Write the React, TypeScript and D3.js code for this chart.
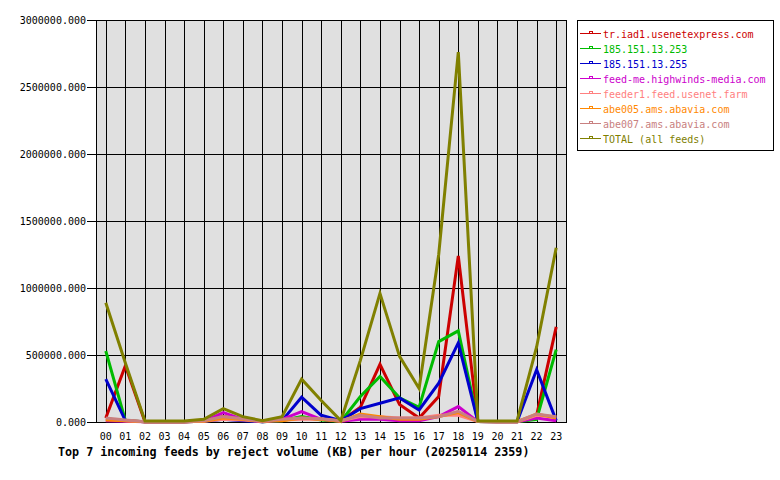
import * as d3 from "d3";

const hours = ["00", "01", "02", "03", "04", "05", "06", "07", "08", "09", "10", "11", "12", "13", "14", "15", "16", "17", "18", "19", "20", "21", "22", "23"];
const feedNames = [
  "tr.iad1.usenetexpress.com",
  "185.151.13.253",
  "185.151.13.255",
  "feed-me.highwinds-media.com",
  "feeder1.feed.usenet.farm",
  "abe005.ams.abavia.com",
  "abe007.ams.abavia.com",
  "TOTAL (all feeds)",
];
const feedColors = ["#cc0000", "#00bb00", "#0000cc", "#cc00cc", "#ff8080", "#ff8800", "#c88080", "#808000"];

const iad1 = [30000, 420000, 2000, 2000, 2000, 10000, 40000, 20000, 5000, 20000, 30000, 20000, 5000, 110000, 430000, 130000, 30000, 190000, 1240000, 3000, 3000, 3000, 50000, 710000];
const ip253 = [530000, 10000, 2000, 2000, 2000, 5000, 30000, 15000, 2000, 10000, 40000, 15000, 5000, 190000, 340000, 180000, 110000, 600000, 680000, 3000, 2000, 2000, 20000, 540000];
const ip255 = [320000, 10000, 2000, 2000, 2000, 5000, 20000, 10000, 2000, 10000, 185000, 50000, 10000, 100000, 140000, 180000, 90000, 290000, 590000, 3000, 2000, 2000, 390000, 10000];
const highwinds = [10000, 5000, 2000, 2000, 2000, 5000, 70000, 20000, 2000, 20000, 77000, 20000, 5000, 20000, 20000, 10000, 10000, 40000, 115000, 3000, 2000, 2000, 30000, 10000];
const feeder1 = [20000, 10000, 2000, 2000, 2000, 5000, 20000, 15000, 5000, 15000, 20000, 20000, 10000, 40000, 40000, 30000, 30000, 50000, 50000, 3000, 2000, 2000, 50000, 40000];
const abe005 = [15000, 10000, 2000, 2000, 2000, 5000, 30000, 20000, 5000, 10000, 30000, 20000, 5000, 60000, 40000, 20000, 20000, 40000, 70000, 3000, 2000, 2000, 60000, 30000];
const abe007 = [30000, 15000, 2000, 2000, 2000, 10000, 40000, 25000, 5000, 20000, 30000, 25000, 10000, 50000, 30000, 30000, 30000, 40000, 80000, 3000, 2000, 2000, 60000, 40000];
const total = [890000, 440000, 8000, 8000, 8000, 20000, 100000, 40000, 10000, 40000, 320000, 160000, 10000, 460000, 960000, 490000, 250000, 1250000, 2760000, 8000, 8000, 8000, 560000, 1300000];
const yTicks = [0, 500000, 1000000, 1500000, 2000000, 2500000, 3000000];

const series = [iad1, ip253, ip255, highwinds, feeder1, abe005, abe007, total];

const left = 96;
const right = 566;
const top = 20;
const bottom = 422;
const font = "'DejaVu Sans Mono', monospace";

export default function App() {
  const x = d3.scalePoint<string>().domain(hours).range([left, right]).padding(0.5);
  const y = d3.scaleLinear().domain([0, 3000000]).range([bottom, top]);
  const line = d3
    .line<number>()
    .x((_, i) => x(hours[i])!)
    .y((d) => y(d));
  const px = (v: number) => Math.round(v) + 0.5;

  return (
    <svg width={780} height={480} style={{ position: "absolute", left: 0, top: 0, background: "#fff" }} fontFamily={font}>
      <rect x={left} y={top} width={right - left} height={bottom - top} fill="#e0e0e0" />
      {/* grid */}
      {yTicks.map((t) => (
        <g key={t}>
          <line x1={left - 9} x2={right} y1={px(y(t))} y2={px(y(t))} stroke="#000" shapeRendering="crispEdges" />
          <text x={left - 10} y={y(t) + 4} fontSize={10} textAnchor="end">
            {d3.format(".3f")(t)}
          </text>
        </g>
      ))}
      {hours.map((h) => (
        <g key={h}>
          <line x1={px(x(h)!)} x2={px(x(h)!)} y1={top} y2={bottom} stroke="#000" shapeRendering="crispEdges" />
          <text x={x(h)} y={440} fontSize={10} textAnchor="middle">
            {h}
          </text>
        </g>
      ))}
      <rect x={left + 0.5} y={top + 0.5} width={right - left} height={bottom - top} fill="none" stroke="#000" shapeRendering="crispEdges" />
      {series.map((s, i) => (
        <path key={i} d={line(s)!} fill="none" stroke={feedColors[i]} strokeWidth={3} strokeLinejoin="miter" />
      ))}
      <text x={58} y={456} fontSize={11.7} fontWeight="bold">
        Top 7 incoming feeds by reject volume (KB) per hour (20250114 2359)
      </text>
      {/* legend */}
      <rect x={577.5} y={20.5} width={196} height={130} fill="#fff" stroke="#000" shapeRendering="crispEdges" />
      {feedNames.map((name, i) => {
        const ly = 33.5 + i * 15;
        return (
          <g key={name}>
            <line x1={580} x2={601} y1={ly} y2={ly} stroke={feedColors[i]} shapeRendering="crispEdges" />
            <rect x={589.5} y={ly - 2} width={3} height={2} fill="none" stroke={feedColors[i]} shapeRendering="crispEdges" />
            <text x={603} y={ly + 4} fontSize={10} fill={feedColors[i]}>
              {name}
            </text>
          </g>
        );
      })}
    </svg>
  );
}
